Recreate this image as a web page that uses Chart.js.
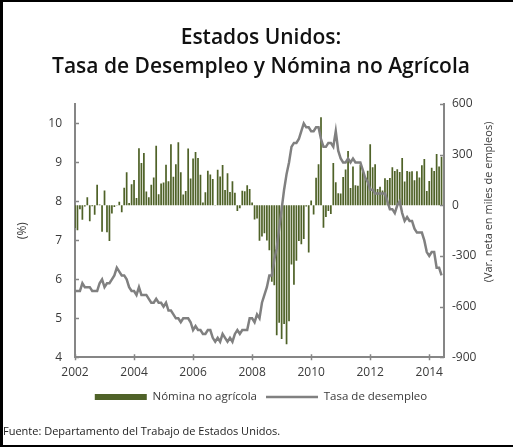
<!DOCTYPE html>
<html>
<head>
<meta charset="utf-8">
<script src="https://cdn.jsdelivr.net/npm/chart.js@4.4.1/dist/chart.umd.min.js"></script>
<style>
  html, body { margin: 0; padding: 0; background: #fff; overflow: hidden; }
  #marco {
    width: 513px; height: 447px; box-sizing: border-box;
    border-left: 3px solid #000; border-top: 2px solid #000; border-bottom: 2px solid #000;
    overflow: hidden;
  }
  canvas { display: block; }
</style>
</head>
<body>
<div id="marco"><canvas id="grafica" width="516" height="443"></canvas></div>
<script>
// Mensual, enero 2002 - junio 2014
const inicio = 2002;

// Tasa de desempleo (%)
const desempleo = [
  5.7, 5.7, 5.7, 5.9, 5.8, 5.8, 5.8, 5.7, 5.7, 5.7, 5.9, 6.0,
  5.8, 5.9, 5.9, 6.0, 6.1, 6.3, 6.2, 6.1, 6.1, 6.0, 5.8, 5.7,
  5.7, 5.6, 5.8, 5.6, 5.6, 5.6, 5.5, 5.4, 5.4, 5.5, 5.4, 5.4,
  5.3, 5.4, 5.2, 5.2, 5.1, 5.0, 5.0, 4.9, 5.0, 5.0, 5.0, 4.9,
  4.7, 4.8, 4.7, 4.7, 4.6, 4.6, 4.7, 4.7, 4.5, 4.4, 4.5, 4.4,
  4.6, 4.5, 4.4, 4.5, 4.4, 4.6, 4.7, 4.6, 4.7, 4.7, 4.7, 5.0,
  5.0, 4.9, 5.1, 5.0, 5.4, 5.6, 5.8, 6.1, 6.1, 6.5, 6.8, 7.3,
  7.8, 8.3, 8.7, 9.0, 9.4, 9.5, 9.5, 9.6, 9.8, 10.0, 9.9, 9.9,
  9.8, 9.8, 9.9, 9.9, 9.6, 9.4, 9.4, 9.5, 9.5, 9.4, 9.8, 9.3,
  9.1, 9.0, 9.0, 9.1, 9.0, 9.1, 9.0, 9.0, 9.0, 8.8, 8.6, 8.5,
  8.3, 8.3, 8.2, 8.2, 8.2, 8.2, 8.2, 8.0, 7.8, 7.8, 7.7, 7.9,
  8.0, 7.7, 7.5, 7.6, 7.5, 7.5, 7.3, 7.2, 7.2, 7.2, 7.0, 6.7,
  6.6, 6.7, 6.7, 6.3, 6.3, 6.1
];

// Nómina no agrícola (var. neta en miles de empleos)
const nomina = [
  -134, -148, -24, -85, -7, 47, -94, -5, -56, 121, 4, -156,
  88, -159, -212, -49, -10, -1, 21, -41, 104, 196, 14, 124,
  150, 43, 338, 250, 310, 81, 47, 122, 164, 353, 65, 129,
  135, 240, 142, 361, 169, 243, 374, 195, 64, 84, 336, 159,
  277, 316, 280, 181, 17, 77, 204, 183, 156, 2, 210, 171,
  238, 90, 190, 79, 143, 75, -34, -18, 86, 83, 118, 97,
  17, -84, -78, -210, -185, -165, -209, -266, -452, -473, -769, -695,
  -791, -703, -823, -686, -351, -470, -329, -212, -231, -199, -7, -279,
  28, -55, 163, 243, 522, -133, -70, -34, -52, 250, 137, 71,
  70, 168, 212, 322, 102, 230, 118, 115, 240, 200, 158, 205,
  362, 226, 243, 96, 110, 88, 160, 150, 161, 225, 203, 214,
  197, 280, 141, 203, 199, 201, 149, 202, 164, 237, 274, 84,
  144, 222, 203, 304, 229, 288
];

const etiquetaAnios = [2002, 2004, 2006, 2008, 2010, 2012, 2014];

const fechas = nomina.map((v, i) => inicio + i / 12);

const grisEje = "#868686";
const textoGris = "#3a3a3a";

Chart.defaults.font.family = "'Open Sans', 'Noto Sans', sans-serif";
Chart.defaults.color = textoGris;

const marcas = {
  id: "marcas",
  afterDraw(chart) {
    const { ctx, chartArea: a, scales } = chart;
    ctx.save();
    ctx.strokeStyle = grisEje;
    ctx.lineWidth = 1.5;
    ctx.beginPath();
    scales.y.ticks.forEach((t) => {
      const y = Math.round(scales.y.getPixelForValue(t.value)) + 0.5;
      ctx.moveTo(a.left, y);
      ctx.lineTo(a.left + 4, y);
    });
    scales.y2.ticks.forEach((t) => {
      const y = Math.round(scales.y2.getPixelForValue(t.value)) + 0.5;
      ctx.moveTo(a.right - 4, y);
      ctx.lineTo(a.right, y);
    });
    scales.x.ticks.forEach((t) => {
      const x = Math.round(scales.x.getPixelForValue(t.value)) + 0.5;
      ctx.moveTo(x, a.bottom - 3);
      ctx.lineTo(x, a.bottom + 3);
    });
    ctx.stroke();

    // título del eje derecho
    ctx.fillStyle = textoGris;
    ctx.font = "11px 'Open Sans', 'Noto Sans', sans-serif";
    ctx.textAlign = "center";
    ctx.textBaseline = "middle";
    ctx.translate(a.right + 45, a.top + 98);
    ctx.rotate(-Math.PI / 2);
    ctx.fillText("(Var. neta en miles de empleos)", 0, 0);
    ctx.restore();
  },
};

new Chart(document.getElementById("grafica"), {
  data: {
    datasets: [
      {
        type: "bar",
        label: "Nómina no agrícola",
        data: nomina.map((v, i) => ({ x: fechas[i], y: v })),
        backgroundColor: "#4f6228",
        borderWidth: 0,
        barPercentage: 0.7,
        categoryPercentage: 1,
        pointStyle: "rect",
        yAxisID: "y2",
        order: 1,
      },
      {
        type: "line",
        label: "Tasa de desempleo",
        data: desempleo.map((v, i) => ({ x: fechas[i], y: v })),
        borderColor: "#808080",
        backgroundColor: "#808080",
        borderWidth: 2.5,
        pointRadius: 0,
        pointStyle: "line",
        tension: 0,
        yAxisID: "y",
        order: 0,
      },
    ],
  },
  options: {
    responsive: false,
    animation: false,
    layout: { padding: 0 },
    scales: {
      x: {
        type: "linear",
        min: 2002,
        max: 2014.5,
        offset: false,
        grid: { display: false, drawTicks: false, offset: false },
        border: { display: true, color: grisEje, width: 2 },
        afterBuildTicks: (scale) => {
          scale.ticks = etiquetaAnios.map((v) => ({ value: v }));
        },
        ticks: {
          stepSize: 2,
          includeBounds: false,
          autoSkip: false,
          maxRotation: 0,
          padding: 8,
          font: { size: 12 },
          callback: (v) => String(v),
        },
        afterFit: (scale) => { scale.height = 25; },
      },
      y: {
        position: "left",
        min: 4,
        max: 10.5,
        grid: { display: false, drawTicks: false },
        border: { display: true, color: grisEje, width: 2 },
        ticks: { stepSize: 1, includeBounds: false, padding: 13, font: { size: 12 } },
        title: { display: true, text: "(%)", font: { size: 12 }, padding: { top: 12, bottom: 0 } },
        afterFit: (scale) => { scale.width = 72; },
      },
      y2: {
        position: "right",
        min: -900,
        max: 600,
        grid: { display: false, drawTicks: false },
        border: { display: true, color: grisEje, width: 2 },
        ticks: { stepSize: 300, includeBounds: false, padding: 8, font: { size: 12 } },
        afterFit: (scale) => { scale.width = 75; },
      },
    },
    plugins: {
      title: {
        display: true,
        text: ["Estados Unidos:", "Tasa de Desempleo y Nómina no Agrícola"],
        color: "#111",
        font: { size: 21, weight: "600", lineHeight: 1.38 },
        padding: { top: 22, bottom: 22 },
      },
      legend: {
        position: "bottom",
        labels: {
          usePointStyle: true,
          pointStyleWidth: 52,
          boxHeight: 6,
          padding: 9,
          font: { size: 11.5 },
          color: textoGris,
          sort: (a, b) => a.datasetIndex - b.datasetIndex,
        },
      },
      subtitle: {
        display: true,
        text: "Fuente: Departamento del Trabajo de Estados Unidos.",
        position: "bottom",
        align: "start",
        color: "#222",
        font: { size: 11 },
        padding: { top: 12, bottom: 7 },
      },
      tooltip: { enabled: false },
    },
  },
  plugins: [marcas],
});
</script>
</body>
</html>
